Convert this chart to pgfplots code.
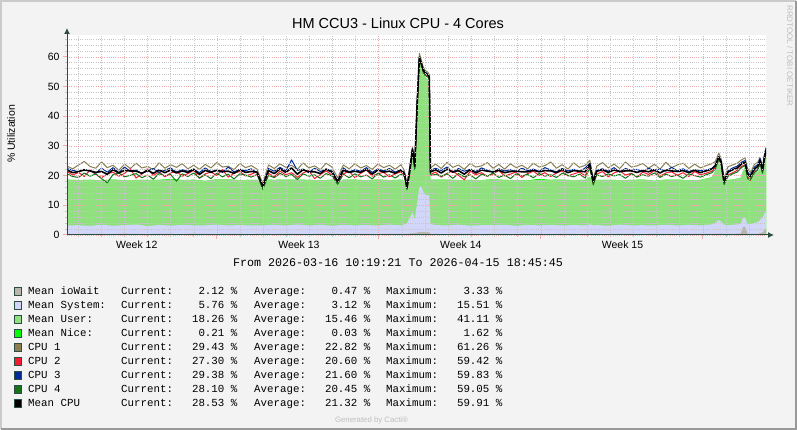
\documentclass[border=0pt]{standalone}
\usepackage{pgfplots}
\pgfplotsset{compat=1.18}
\usepackage{pgfplotstable}
\usepackage{fontspec}
\setmainfont{Liberation Sans}
\setmonofont{Liberation Mono}
\usetikzlibrary{arrows.meta}

\definecolor{bgc}{HTML}{F3F3F3}
\definecolor{shadea}{HTML}{CBCBCB}
\definecolor{shadeb}{HTML}{999999}
\definecolor{axiscol}{HTML}{2C4D43}
\definecolor{mgrid}{HTML}{F0ACAC}
\definecolor{ngrid}{HTML}{C6C6C6}
\definecolor{ciowait}{HTML}{B9B4AC}
\definecolor{csys}{HTML}{D2D6F8}
\definecolor{cuser}{HTML}{90E080}
\definecolor{cnice}{HTML}{00FF00}
\definecolor{ccpua}{HTML}{8A7E52}
\definecolor{ccpub}{HTML}{F51D30}
\definecolor{ccpuc}{HTML}{002A97}
\definecolor{ccpud}{HTML}{157419}
\definecolor{wm}{HTML}{BEBEBE}

\pgfplotstableread{
x io sys usr nice
0.0 0.35 2.9 15.4 0
0.5 0.30 3.0 15.2 0
1.0 0.40 2.7 15.5 0
1.5 0.35 3.1 15.0 0
2.0 0.30 2.8 15.6 0
2.5 0.45 2.9 15.1 0
3.0 0.35 3.2 15.0 0
3.5 0.30 2.7 15.6 0
4.0 0.40 3.0 15.2 0
4.5 0.35 2.8 15.5 0.3
5.0 0.30 3.1 15.1 0
5.5 0.45 2.8 15.4 0
6.0 0.35 2.9 15.0 0
6.5 0.30 3.2 15.3 0
7.0 0.40 2.8 15.6 0
7.5 0.35 3.0 15.1 0
8.0 0.30 2.9 15.4 0
8.25 0.35 2.9 15.3 0
8.5 0.40 2.8 13.3 0
8.75 0.35 3.0 15.3 0
9.0 0.30 3.1 15.2 0
9.5 0.40 2.8 15.5 0
10.0 0.35 3.2 15.1 0
10.5 0.30 2.9 15.4 0
11.0 0.40 3.0 15.0 0
11.5 0.35 2.8 15.5 0
11.75 0.35 2.9 14.0 0
12.0 0.30 3.1 15.3 0
12.5 0.45 2.8 15.4 0
13.0 0.35 3.0 15.1 0
13.5 0.30 2.9 15.5 0
14.0 0.40 3.1 15.0 0
14.5 0.35 2.9 15.4 0
14.65 0.40 3.2 14.5 0
14.76 0.40 3.6 11.0 0
14.89 0.50 5.5 14.5 0
15.00 0.60 7.0 19.0 0
15.10 0.60 4.5 16.5 0
15.20 0.80 10.0 27.0 0
15.30 1.00 15.2 41.0 0
15.38 1.00 15.5 40.5 0
15.47 1.00 13.5 40.0 0
15.58 1.00 12.3 39.7 0
15.68 0.90 12.6 38.7 0
15.73 0.90 12.4 38.0 0
15.78 0.40 3.3 15.0 0
16.0 0.35 3.0 15.3 0
16.5 0.30 2.9 15.5 0
17.0 0.40 3.1 15.0 0
17.5 0.35 2.8 15.4 0
18.0 0.30 3.0 15.2 0
18.5 0.40 2.9 15.5 0
19.0 0.35 3.1 15.1 0
19.5 0.30 2.8 15.4 0
20.0 0.40 3.0 15.0 0
20.5 0.35 2.9 15.3 0.4
21.0 0.30 3.1 15.2 0
21.5 0.40 2.8 15.5 0
22.0 0.35 3.0 15.1 0
22.5 0.30 2.9 15.4 0
22.7 0.40 3.2 16.0 0
22.85 0.35 2.9 14.5 0
23.0 0.35 3.0 15.2 0
23.5 0.30 2.8 15.5 0
24.0 0.40 3.1 15.0 0
24.5 0.35 2.9 15.3 0
25.0 0.30 3.0 15.4 0
25.5 0.40 2.8 15.1 0
26.0 0.35 3.1 15.2 0
26.5 0.30 2.9 15.5 0
27.0 0.40 3.0 15.0 0
27.5 0.35 2.9 15.3 0
28.0 0.40 3.2 15.9 0
28.15 0.45 3.6 17.5 0
28.30 0.50 4.5 19.5 0
28.40 0.45 4.0 17.5 0
28.53 0.40 3.1 14.8 0
28.7 0.35 3.0 15.2 0
29.0 0.40 3.1 15.3 0
29.25 0.50 3.2 15.6 0
29.35 2.70 3.0 15.8 0
29.44 2.80 3.1 16.8 0
29.55 0.40 3.2 15.7 0
29.75 0.35 3.5 16.0 0
30.0 0.40 4.0 17.0 0
30.10 0.60 4.5 17.2 0
30.22 1.00 5.2 16.4 0
30.30 1.80 5.6 18.0 0
30.35 2.12 5.76 18.26 0.21
}\areas

\pgfplotstableread{
x c1 c2 c3 c4 m
0.00 23.2 21.4 22.4 20.6 21.9
0.25 22.3 20.2 21.8 19.7 21.0
0.50 23.6 21.1 21.3 19.4 21.4
0.75 24.8 19.7 22.1 20.9 21.9
1.00 23.1 21.9 21.6 19.8 21.6
1.25 22.5 20.4 20.8 20.6 21.1
1.50 24.6 19.3 22.5 19.0 21.4
1.75 22.7 20.6 21.2 17.6 20.5
2.00 23.5 21.2 22.7 20.4 22.0
2.25 21.8 19.8 21.0 20.9 20.9
2.50 23.9 20.8 22.9 19.6 21.8
2.75 22.4 22.3 21.4 20.1 21.6
3.00 24.2 19.2 21.9 20.7 21.5
3.25 22.6 20.5 20.7 19.3 20.8
3.50 23.1 22.4 21.6 20.2 21.8
3.75 22.0 20.0 22.4 18.8 20.8
4.00 24.3 21.3 21.1 20.7 21.9
4.25 22.5 19.6 21.8 19.9 21.0
4.50 23.7 20.9 22.6 20.4 21.9
4.75 22.8 21.5 21.2 18.1 20.9
5.00 24.0 19.8 22.0 20.6 21.6
5.25 22.3 20.7 21.5 19.7 21.1
5.50 23.5 21.8 22.2 20.9 22.1
5.75 22.1 19.1 21.0 19.2 20.4
6.00 23.8 20.6 22.6 20.3 21.8
6.25 22.6 21.2 21.4 19.0 21.1
6.50 24.4 20.1 21.8 20.8 21.8
6.75 22.9 22.0 21.1 19.6 21.4
7.00 23.2 19.5 22.9 20.5 21.5
7.25 22.0 20.8 21.3 18.9 20.8
7.50 24.1 21.4 22.0 20.6 22.0
7.75 22.7 19.9 21.7 20.2 21.1
8.00 23.4 20.5 22.3 19.5 21.4
8.25 22.2 21.3 21.0 20.4 21.2
8.50 17.4 15.6 16.6 15.4 16.3
8.75 23.6 20.8 22.4 20.1 21.7
9.00 22.4 19.6 21.5 19.3 20.7
9.25 24.0 21.5 22.8 20.8 22.3
9.50 22.8 20.3 21.6 19.7 21.1
9.75 23.5 21.0 25.3 20.4 22.6
10.00 22.1 19.4 21.8 18.7 20.5
10.25 24.3 20.9 22.2 20.6 22.0
10.50 22.6 21.7 21.0 19.8 21.3
10.75 23.3 19.0 22.5 20.3 21.3
11.00 22.0 20.4 21.4 19.1 20.7
11.25 24.2 21.6 22.1 20.7 22.2
11.50 22.9 20.2 21.8 19.9 21.2
11.75 19.3 17.6 18.2 17.1 18.0
12.00 23.6 20.6 22.6 20.5 21.8
12.25 22.3 21.5 21.3 19.3 21.1
12.50 24.0 19.3 22.0 20.6 21.5
12.75 22.6 20.8 21.5 19.6 21.1
13.00 23.4 21.9 22.7 20.2 22.1
13.25 22.1 19.8 21.1 18.9 20.5
13.50 23.9 20.7 22.3 20.8 21.9
13.75 22.7 21.1 21.6 19.5 21.2
14.00 23.5 19.6 22.4 20.3 21.5
14.25 22.2 20.6 21.2 19.2 20.8
14.50 23.7 21.3 22.0 20.5 21.9
14.65 21.6 20.1 21.0 19.7 20.6
14.76 17.0 15.5 16.2 15.3 16.0
14.89 23.5 21.8 22.6 21.0 22.2
15.00 29.8 28.4 29.0 28.2 28.9
15.10 24.2 22.5 23.6 22.0 23.1
15.20 44.5 43.0 44.2 42.5 43.6
15.30 61.26 59.42 59.83 59.05 59.91
15.38 59.0 57.5 58.0 57.2 57.9
15.47 56.5 55.0 55.8 54.6 55.5
15.58 55.3 54.0 54.8 53.5 54.4
15.68 54.8 53.5 54.0 53.2 53.9
15.73 54.0 52.8 53.4 52.5 53.2
15.78 22.6 20.4 21.8 20.1 21.2
16.00 23.9 21.2 22.5 20.4 22.0
16.25 22.4 19.5 21.7 19.8 20.9
16.50 24.5 20.8 22.9 20.6 22.2
16.75 22.8 21.6 21.2 19.1 21.2
17.00 23.6 20.1 22.4 20.7 21.7
17.25 22.1 18.6 21.5 19.6 20.5
17.50 24.1 21.4 22.1 20.3 22.0
17.75 22.9 20.3 21.4 18.9 20.9
18.00 23.3 21.0 22.6 20.5 21.9
18.25 24.4 19.8 21.8 19.8 21.5
18.50 22.5 20.6 21.1 20.9 21.3
18.75 23.8 21.8 22.3 19.4 21.8
19.00 22.2 19.9 21.6 20.2 21.0
19.25 24.0 20.5 22.0 19.0 21.4
19.50 22.7 21.3 21.3 20.6 21.5
19.75 23.5 19.4 22.5 19.9 21.3
20.00 22.3 20.7 21.7 20.4 21.3
20.25 24.2 21.5 22.2 19.3 21.8
20.50 22.9 20.1 21.4 20.7 21.3
20.75 23.4 21.0 22.7 19.8 21.7
21.00 24.6 19.7 21.9 20.3 21.6
21.25 22.5 20.9 21.3 19.4 21.0
21.50 23.7 21.6 22.4 20.8 22.1
21.75 22.2 19.9 21.6 20.1 21.0
22.00 24.3 20.6 22.1 19.6 21.7
22.25 22.8 21.2 21.4 20.5 21.5
22.50 23.5 20.0 22.6 19.2 21.3
22.70 25.2 23.0 24.2 22.6 23.8
22.85 19.0 17.2 18.4 16.9 17.9
23.00 23.2 20.5 21.8 20.3 21.5
23.25 24.4 21.4 22.3 19.7 22.0
23.50 22.6 19.6 21.5 20.6 21.1
23.75 23.9 20.9 22.7 19.9 21.9
24.00 22.4 21.6 21.2 20.4 21.4
24.25 24.6 20.2 22.4 19.1 21.6
24.50 22.9 20.8 21.8 20.7 21.6
24.75 23.3 19.5 22.1 19.6 21.1
25.00 24.1 21.2 21.3 20.3 21.7
25.25 22.5 20.4 22.5 19.8 21.3
25.50 23.8 21.7 21.7 20.9 22.0
25.75 22.2 19.8 22.2 19.4 20.9
26.00 24.5 20.9 21.5 20.5 21.9
26.25 22.7 21.3 22.8 19.7 21.6
26.50 23.6 20.1 21.6 20.2 21.4
26.75 24.2 21.0 22.3 19.1 21.7
27.00 22.4 19.7 21.4 20.6 21.0
27.25 23.9 21.4 22.0 20.0 21.8
27.50 22.6 20.3 21.7 19.5 21.0
27.75 23.4 20.8 21.9 20.3 21.6
28.00 24.0 21.5 22.4 21.0 22.2
28.15 24.8 22.8 23.6 22.2 23.4
28.30 27.6 25.6 26.5 25.4 26.3
28.40 25.8 24.0 24.8 23.8 24.6
28.53 19.0 17.2 18.3 17.0 17.9
28.70 23.0 20.2 21.6 19.8 21.2
28.90 23.6 21.0 22.6 20.6 22.0
29.10 24.2 21.8 23.2 21.2 22.6
29.30 25.4 23.2 24.6 22.8 24.0
29.44 26.0 23.6 25.1 23.4 24.5
29.55 22.4 19.6 21.2 19.0 20.6
29.66 21.0 18.4 20.2 18.6 19.6
29.85 23.8 21.2 22.9 21.0 22.2
30.00 24.6 22.5 23.8 22.0 23.2
30.09 26.2 24.2 25.8 24.0 25.1
30.20 23.2 21.0 22.5 20.8 21.9
30.28 27.0 25.0 26.8 25.2 26.0
30.35 29.43 27.30 29.38 28.10 28.53
}\cpus

\newcommand{\legfont}{\ttfamily\fontsize{10.8}{12}\selectfont}
\newcommand{\legrow}[6]{%
  \filldraw[fill=#2, draw=axiscol, line width=0.9pt] (14.5,{-#1+6.6}) rectangle (21.6,{-#1-1.3});
  \node[anchor=base west, inner sep=0pt, font=\legfont] at (28,-#1) {#3};
  \node[anchor=base west, inner sep=0pt, font=\legfont] at (121,-#1) {Current:};
  \node[anchor=base east, inner sep=0pt, font=\legfont] at (237.6,-#1) {#4~\%};
  \node[anchor=base west, inner sep=0pt, font=\legfont] at (254,-#1) {Average:};
  \node[anchor=base east, inner sep=0pt, font=\legfont] at (370.6,-#1) {#5~\%};
  \node[anchor=base west, inner sep=0pt, font=\legfont] at (386,-#1) {Maximum:};
  \node[anchor=base east, inner sep=0pt, font=\legfont] at (502.6,-#1) {#6~\%};
}

\begin{document}
\begin{tikzpicture}[x=1pt,y=1pt]
\fill[bgc] (0,0) rectangle (797,-430);
\draw[shadea, line width=2pt] (1,-429) -- (1,-1) -- (796,-1);
\draw[shadeb, line width=2pt] (796,-1) -- (796,-429) -- (1,-429);

\begin{axis}[
  at={(67pt,-235pt)}, anchor=south west,
  scale only axis, width=699pt, height=200pt,
  xmin=0, xmax=30.35, ymin=0, ymax=67.4,
  axis x line=bottom, axis y line=left,
  axis line style={draw=axiscol, line width=1pt},
  x axis line style={-{Latex[length=6pt,width=6pt]}, shorten >=-8pt},
  y axis line style={-{Latex[length=6pt,width=6pt]}, shorten >=-7pt},
  axis background/.style={fill=white},
  axis on top,
  ytick={0,10,...,60},
  minor ytick={2,4,6,8,12,14,16,18,22,24,26,28,32,34,36,38,42,44,46,48,52,54,56,58,62,64,66},
  xtick={6.51,13.54,20.58,27.61}, xticklabels={},
  minor xtick={0.48,1.49,2.49,3.50,4.50,5.51,7.52,8.52,9.52,10.53,11.53,12.54,14.55,15.55,16.56,17.56,18.57,19.57,21.58,22.59,23.59,24.60,25.60,26.61,28.62,29.62},
  extra x ticks={3.03,10.07,17.10,24.12},
  extra x tick labels={Week 12,Week 13,Week 14,Week 15},
  extra x tick style={grid=none, major tick length=0pt},
  grid=both,
  major grid style={draw=mgrid, dash pattern=on 1pt off 1.2pt, line width=0.8pt},
  minor grid style={draw=ngrid, dash pattern=on 1pt off 1.2pt, line width=0.8pt},
  major tick style={draw=mgrid, line width=1pt},
  minor tick style={draw=ngrid, line width=1pt},
  tick align=outside, major tick length=4pt, minor tick length=2pt,
  tick label style={font=\fontsize{10.5}{12}\selectfont, text=black},
  xticklabel style={yshift=-2pt},
  /pgf/number format/assume math mode=true,
]
\addplot[fill=cnice, draw=none] table[x=x, y expr=\thisrow{io}+\thisrow{sys}+\thisrow{usr}+\thisrow{nice}] {\areas} \closedcycle;
\addplot[fill=cuser, draw=none] table[x=x, y expr=\thisrow{io}+\thisrow{sys}+\thisrow{usr}] {\areas} \closedcycle;
\addplot[fill=csys, draw=none] table[x=x, y expr=\thisrow{io}+\thisrow{sys}] {\areas} \closedcycle;
\addplot[fill=ciowait, draw=none] table[x=x, y=io] {\areas} \closedcycle;
\addplot[ccpua, line width=1pt, line join=round] table[x=x, y=c1] {\cpus};
\addplot[ccpub, line width=1pt, line join=round] table[x=x, y=c2] {\cpus};
\addplot[ccpuc, line width=1pt, line join=round] table[x=x, y=c3] {\cpus};
\addplot[ccpud, line width=1pt, line join=round] table[x=x, y=c4] {\cpus};
\addplot[black, line width=1.6pt, line join=round] table[x=x, y=m] {\cpus};
\end{axis}

\node[anchor=base, inner sep=0pt, font=\fontsize{14.5}{16}\selectfont] at (398,-28.3) {HM CCU3 - Linux CPU - 4 Cores};
\node[rotate=90, inner sep=0pt, font=\fontsize{10.5}{12}\selectfont] at (11,-134) {\% Utilization};
\node[rotate=-90, inner sep=0pt, font=\fontsize{8}{9}\selectfont, text=wm] at (790,-56) {RRDTOOL / TOBI OETIKER};
\node[anchor=base, inner sep=0pt, font=\ttfamily\fontsize{11.7}{13}\selectfont] at (398,-266) {From 2026-03-16 10:19:21 To 2026-04-15 18:45:45};

\legrow{294.5}{ciowait}{Mean ioWait}{2.12}{0.47}{3.33}
\legrow{308.5}{csys}{Mean System:}{5.76}{3.12}{15.51}
\legrow{322.4}{cuser}{Mean User:}{18.26}{15.46}{41.11}
\legrow{336.4}{cnice}{Mean Nice:}{0.21}{0.03}{1.62}
\legrow{350.4}{ccpua}{CPU 1}{29.43}{22.82}{61.26}
\legrow{364.4}{ccpub}{CPU 2}{27.30}{20.60}{59.42}
\legrow{378.3}{ccpuc}{CPU 3}{29.38}{21.60}{59.83}
\legrow{392.3}{ccpud}{CPU 4}{28.10}{20.45}{59.05}
\legrow{406.3}{black}{Mean CPU}{28.53}{21.32}{59.91}

\node[anchor=base, inner sep=0pt, font=\fontsize{7.8}{9}\selectfont, text=wm] at (371.5,-422) {Generated by Cacti®};
\end{tikzpicture}
\end{document}
